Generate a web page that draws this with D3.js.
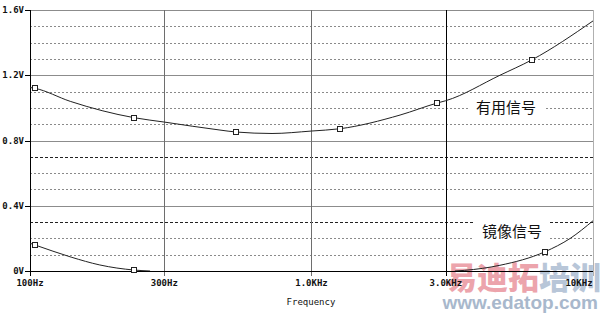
<!DOCTYPE html>
<html>
<head>
<meta charset="utf-8">
<script src="https://cdn.jsdelivr.net/npm/d3@7"></script>
<style>
body { margin: 0; background: #fff; }
svg { display: block; }
</style>
</head>
<body>
<script>
// data
var yTicks = [0, 0.4, 0.8, 1.2, 1.6];
var yTickLabels = ["0V", "0.4V", "0.8V", "1.2V", "1.6V"];
var yMinor = [0.1, 0.2, 0.5, 0.6, 0.9, 1.0, 1.1, 1.3, 1.4, 1.5];
var yMinorDark = [0.3, 0.7];
var xTicks = [100, 300, 1000, 3000, 10000];
var xTickLabels = ["100Hz", "300Hz", "1.0KHz", "3.0KHz", "10KHz"];

var usefulFreq = [100, 104, 139, 234, 300, 473, 540, 724, 1000, 1260, 2063, 2800, 3000, 4670, 6060, 10000];
var usefulVolt = [1.125, 1.12, 1.04, 0.94, 0.913, 0.864, 0.852, 0.843, 0.858, 0.872, 0.956, 1.03, 1.044, 1.20, 1.294, 1.533];
var usefulMarks = [104, 234, 540, 1260, 2800, 6060];

var imageFreqA = [100, 104, 140, 177, 234, 267];
var imageVoltA = [0.17, 0.16, 0.085, 0.037, 0.006, 0.0];
var imageFreqB = [3230, 3500, 4670, 6750, 8300, 10000];
var imageVoltB = [0.0, 0.004, 0.035, 0.118, 0.2, 0.308];
var imageMarks = [104, 234, 6750];

var width = 600,
    height = 313;

var svg = d3.select("body").append("svg")
    .attr("width", width)
    .attr("height", height);

var x = d3.scaleLog().domain([100, 10000]).range([30, 593]);
var y = d3.scaleLinear().domain([0, 1.6]).range([271, 10]);

svg.append("defs").append("clipPath").attr("id", "plot")
  .append("rect")
    .attr("x", 30).attr("y", 10)
    .attr("width", 563).attr("height", 261);

// watermark (behind)
var wm = svg.append("g");
wm.append("text")
    .attr("x", 446).attr("y", 289)
    .style("font-family", "'Noto Sans CJK SC'")
    .style("font-weight", "900")
    .style("font-size", "31px")
    .attr("fill", "#eca4ac")
    .text("易迪拓");
wm.append("text")
    .attr("x", 539).attr("y", 289)
    .style("font-family", "'Noto Sans CJK SC'")
    .style("font-weight", "900")
    .style("font-size", "31px")
    .attr("fill", "#b8c6d8")
    .text("培训");
wm.append("text")
    .attr("x", 598).attr("y", 309)
    .attr("text-anchor", "end")
    .style("font-family", "'Liberation Sans'")
    .style("font-weight", "bold")
    .style("font-size", "19px")
    .attr("fill", "#a8b8cc")
    .text("www.edatop.com");

// grid
svg.append("g").selectAll("line")
    .data(yMinor)
    .enter().append("line")
    .attr("x1", 30).attr("x2", 593)
    .attr("y1", function(d) { return Math.round(y(d)) + 0.5; })
    .attr("y2", function(d) { return Math.round(y(d)) + 0.5; })
    .attr("stroke", "#8a8a8a")
    .attr("stroke-dasharray", "2,2");

svg.append("g").selectAll("line")
    .data(yMinorDark)
    .enter().append("line")
    .attr("x1", 30).attr("x2", 593)
    .attr("y1", function(d) { return Math.round(y(d)) + 0.5; })
    .attr("y2", function(d) { return Math.round(y(d)) + 0.5; })
    .attr("stroke", "#222")
    .attr("stroke-dasharray", "3,2");

svg.append("g").selectAll("line")
    .data(yTicks.slice(1))
    .enter().append("line")
    .attr("x1", 30).attr("x2", 593)
    .attr("y1", function(d) { return Math.round(y(d)) + 0.5; })
    .attr("y2", function(d) { return Math.round(y(d)) + 0.5; })
    .attr("stroke", "#8c8c8c");

svg.append("g").selectAll("line")
    .data([300, 1000])
    .enter().append("line")
    .attr("x1", function(d) { return Math.round(x(d)) + 0.5; })
    .attr("x2", function(d) { return Math.round(x(d)) + 0.5; })
    .attr("y1", 10).attr("y2", 276)
    .attr("stroke", "#6e6e6e");

svg.append("line")
    .attr("x1", Math.round(x(3000)) + 0.5).attr("x2", Math.round(x(3000)) + 0.5)
    .attr("y1", 10).attr("y2", 276)
    .attr("stroke", "#000");

// right border
svg.append("line")
    .attr("x1", 593.5).attr("x2", 593.5)
    .attr("y1", 10).attr("y2", 276)
    .attr("stroke", "#b0b0b0");

// labels with white backing
function label(txt, cx, cy) {
  svg.append("rect")
      .attr("x", cx - 38).attr("y", cy - 11)
      .attr("width", 76).attr("height", 22)
      .attr("fill", "#fff");
  svg.append("text")
      .attr("x", cx).attr("y", cy + 6)
      .attr("text-anchor", "middle")
      .style("font-family", "'Noto Sans CJK SC'")
      .style("font-size", "15px")
      .attr("fill", "#111")
      .text(txt);
}
label("有用信号", 506, 107);
label("镜像信号", 512, 231);

// axes (left and bottom, black)
svg.append("line")
    .attr("x1", 30.5).attr("x2", 30.5)
    .attr("y1", 10).attr("y2", 276)
    .attr("stroke", "#000");
svg.append("line")
    .attr("x1", 25).attr("x2", 593)
    .attr("y1", 271.5).attr("y2", 271.5)
    .attr("stroke", "#000");

svg.append("g").selectAll("line")
    .data(yTicks)
    .enter().append("line")
    .attr("x1", 25).attr("x2", 30)
    .attr("y1", function(d) { return Math.round(y(d)) + 0.5; })
    .attr("y2", function(d) { return Math.round(y(d)) + 0.5; })
    .attr("stroke", "#000");

svg.append("g").selectAll("text")
    .data(yTicks)
    .enter().append("text")
    .attr("x", 24)
    .attr("y", function(d) { return y(d) + 3; })
    .attr("text-anchor", "end")
    .style("font-family", "'DejaVu Sans Mono'")
    .style("font-weight", "bold")
    .style("font-size", "9px")
    .attr("fill", "#111")
    .text(function(d, i) { return yTickLabels[i]; });

svg.append("g").selectAll("text")
    .data(xTicks)
    .enter().append("text")
    .attr("x", function(d) { return d == 10000 ? 579 : x(d); })
    .attr("y", 286)
    .attr("text-anchor", "middle")
    .style("font-family", "'DejaVu Sans Mono'")
    .style("font-weight", "bold")
    .style("font-size", "9px")
    .attr("fill", "#111")
    .text(function(d, i) { return xTickLabels[i]; });

svg.append("text")
    .attr("x", 311).attr("y", 305)
    .attr("text-anchor", "middle")
    .style("font-family", "'DejaVu Sans Mono'")
    .style("font-size", "9px")
    .attr("fill", "#111")
    .text("Frequency");

// curves
var line = d3.line()
    .x(function(d) { return x(d[0]); })
    .y(function(d) { return y(d[1]); })
    .curve(d3.curveMonotoneX);

var plot = svg.append("g").attr("clip-path", "url(#plot)");

plot.append("path")
    .datum(d3.zip(usefulFreq, usefulVolt))
    .attr("fill", "none")
    .attr("stroke", "#222")
    .attr("stroke-width", 1)
    .attr("d", line);

plot.append("path")
    .datum(d3.zip(imageFreqA, imageVoltA))
    .attr("fill", "none")
    .attr("stroke", "#222")
    .attr("d", line);

plot.append("path")
    .datum(d3.zip(imageFreqB, imageVoltB))
    .attr("fill", "none")
    .attr("stroke", "#222")
    .attr("d", line);

function interp(fs, vs, f) {
  for (var i = 0; i < fs.length - 1; i++) {
    if (f >= fs[i] && f <= fs[i + 1]) {
      var t = (Math.log(f) - Math.log(fs[i])) / (Math.log(fs[i + 1]) - Math.log(fs[i]));
      return vs[i] + t * (vs[i + 1] - vs[i]);
    }
  }
  return vs[vs.length - 1];
}

var marks = usefulMarks.map(function(f) { return [f, interp(usefulFreq, usefulVolt, f)]; })
  .concat(imageMarks.map(function(f) {
    return f < 1000 ? [f, interp(imageFreqA, imageVoltA, f)] : [f, interp(imageFreqB, imageVoltB, f)];
  }));

svg.append("g").selectAll("rect")
    .data(marks)
    .enter().append("rect")
    .attr("x", function(d) { return Math.round(x(d[0])) - 2.5; })
    .attr("y", function(d) { return Math.round(y(d[1])) - 2.5; })
    .attr("width", 5).attr("height", 5)
    .attr("fill", "#fff")
    .attr("stroke", "#222");
</script>
</body>
</html>
